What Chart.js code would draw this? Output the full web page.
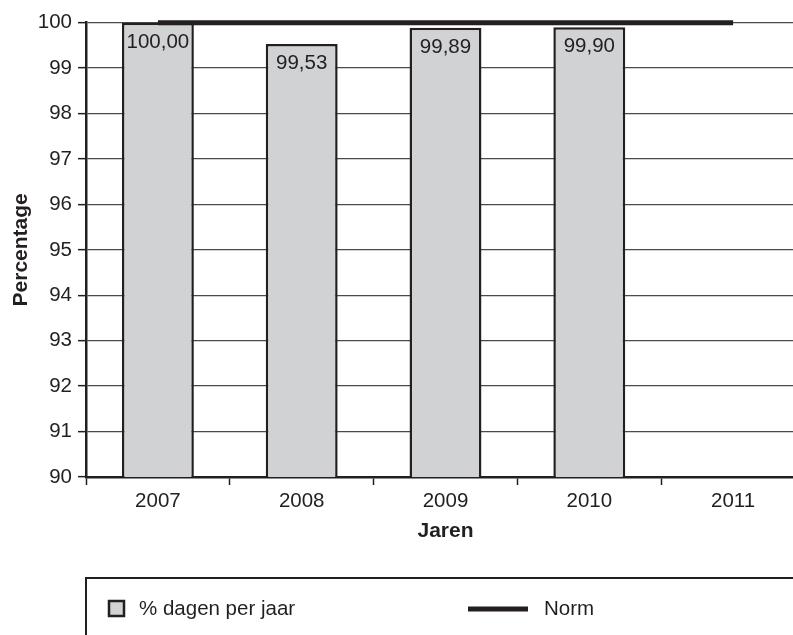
<!DOCTYPE html>
<html>
<head>
<meta charset="utf-8">
<script src="https://cdn.jsdelivr.net/npm/chart.js@4/dist/chart.umd.min.js"></script>
<style>
  html, body { margin: 0; padding: 0; background: #fff; overflow: hidden; width: 793px; height: 635px; }
  canvas { display: block; }
</style>
</head>
<body>
<canvas id="c" width="812" height="635"></canvas>
<script>
const categories = ['2007', '2008', '2009', '2010', '2011'];
const dagenPerJaar = [100.00, 99.53, 99.89, 99.90, null];
const norm = [100, 100, 100, 100, 100];
const yTicks = [90, 91, 92, 93, 94, 95, 96, 97, 98, 99, 100];
const seriesNames = ['% dagen per jaar', 'Norm'];
const axisTitles = { x: 'Jaren', y: 'Percentage' };

const INK = '#231f20';
const FONT = "'Liberation Sans', Arial, Helvetica, sans-serif";

const barLabels = {
  id: 'barLabels',
  afterDatasetsDraw(chart) {
    const ctx = chart.ctx;
    const meta = chart.getDatasetMeta(1);
    ctx.save();
    ctx.font = '20.5px ' + FONT;
    ctx.fillStyle = INK;
    ctx.textAlign = 'center';
    ctx.textBaseline = 'middle';
    meta.data.forEach((el, i) => {
      const v = dagenPerJaar[i];
      if (v === null || v === undefined) return;
      ctx.fillText(v.toFixed(2).replace('.', ','), el.x, el.y + 19.5);
    });
    ctx.restore();
  }
};

const boxLegend = {
  id: 'boxLegend',
  afterDraw(chart) {
    const ctx = chart.ctx;
    const left = chart.chartArea.left;
    const top = 578;
    ctx.save();
    ctx.strokeStyle = INK;
    ctx.lineWidth = 2;
    ctx.strokeRect(left, top, 1000, 200);
    const bar = chart.data.datasets[1];
    ctx.fillStyle = bar.backgroundColor;
    ctx.fillRect(109, 601, 15, 15);
    ctx.strokeStyle = bar.borderColor;
    ctx.lineWidth = 2.5;
    ctx.strokeRect(109, 601, 15, 15);
    ctx.font = '20.5px ' + FONT;
    ctx.fillStyle = INK;
    ctx.textAlign = 'left';
    ctx.textBaseline = 'middle';
    ctx.fillText(bar.label, 139, 609);
    const ln = chart.data.datasets[0];
    ctx.strokeStyle = ln.borderColor;
    ctx.lineWidth = 5;
    ctx.beginPath();
    ctx.moveTo(468, 609);
    ctx.lineTo(528, 609);
    ctx.stroke();
    ctx.fillText(ln.label, 544, 609);
    ctx.restore();
  }
};

new Chart(document.getElementById('c'), {
  type: 'bar',
  data: {
    labels: categories,
    datasets: [
      {
        type: 'line',
        label: seriesNames[1],
        data: norm,
        borderColor: INK,
        borderWidth: 5,
        pointRadius: 0,
        fill: false,
        order: 0,
        clip: 10
      },
      {
        type: 'bar',
        label: seriesNames[0],
        data: dagenPerJaar,
        backgroundColor: '#d1d2d4',
        borderColor: INK,
        borderWidth: 2.5,
        borderSkipped: false,
        barPercentage: 0.5,
        categoryPercentage: 1.0,
        order: 1
      }
    ]
  },
  options: {
    responsive: false,
    devicePixelRatio: 1,
    animation: false,
    layout: { padding: { left: 0, top: 22.7, right: 7, bottom: 91 } },
    plugins: {
      legend: { display: false },
      title: { display: false },
      tooltip: { enabled: false }
    },
    scales: {
      x: {
        offset: true,
        grid: {
          offset: true,
          drawOnChartArea: false,
          drawTicks: true,
          tickLength: 8,
          tickColor: INK,
          tickWidth: 1.5
        },
        border: { display: true, color: INK, width: 2.5 },
        ticks: { color: INK, font: { family: FONT, size: 20.5 }, padding: 4 },
        title: {
          display: true,
          text: axisTitles.x,
          color: INK,
          font: { family: FONT, size: 21, weight: 'bold' },
          padding: { top: 0, bottom: 0 }
        },
        afterFit(scale) { scale.height = 67; }
      },
      y: {
        min: 90,
        max: 100,
        afterBuildTicks(scale) { scale.ticks = yTicks.map(v => ({ value: v })); },
        grid: {
          color: '#4a4a4a',
          lineWidth: 1.3,
          drawTicks: true,
          tickLength: 8,
          tickColor: INK,
          tickWidth: 1.5
        },
        border: { display: true, color: INK, width: 2.5 },
        ticks: { color: INK, font: { family: FONT, size: 20.5 }, padding: 6 },
        title: {
          display: true,
          text: axisTitles.y,
          color: INK,
          font: { family: FONT, size: 21, weight: 'bold' },
          padding: { top: 9, bottom: 0 }
        },
        afterFit(scale) { scale.width = 86; }
      }
    }
  },
  plugins: [barLabels, boxLegend]
});
</script>
</body>
</html>
